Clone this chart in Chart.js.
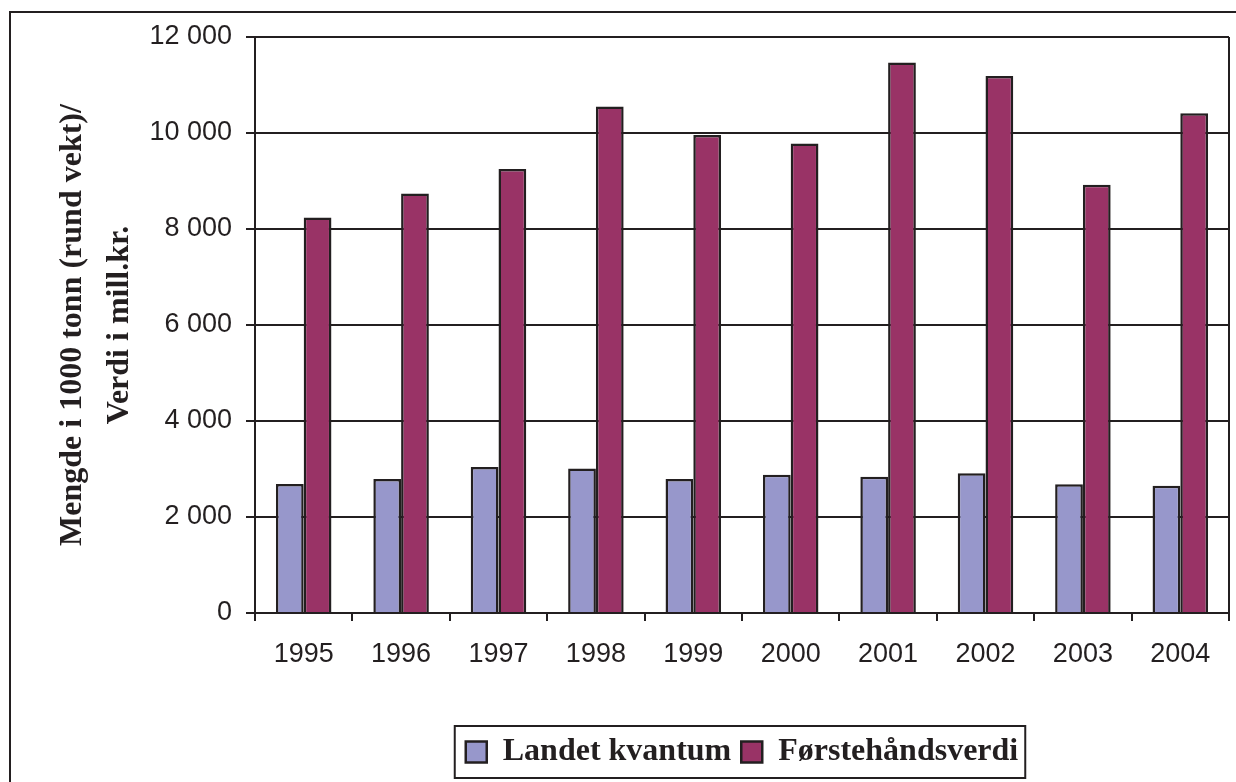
<!DOCTYPE html>
<html>
<head>
<meta charset="utf-8">
<script src="https://cdn.jsdelivr.net/npm/chart.js@4/dist/chart.umd.min.js"></script>
<style>
  html, body { margin: 0; padding: 0; background: #ffffff; }
  #wrap { position: relative; width: 1236px; height: 782px; }
</style>
</head>
<body>
<div id="wrap"><canvas id="c" width="1236" height="782"></canvas></div>
<script>
const years = ['1995', '1996', '1997', '1998', '1999', '2000', '2001', '2002', '2003', '2004'];
const landetKvantum = [2690, 2790, 3040, 3010, 2790, 2880, 2840, 2910, 2680, 2650];
const forstehandsverdi = [8240, 8740, 9250, 10550, 9960, 9780, 11470, 11190, 8920, 10410];
const yTickLabels = ['0', '2 000', '4 000', '6 000', '8 000', '10 000', '12 000'];
const seriesNames = ['Landet kvantum', 'Førstehåndsverdi'];
const yTitle = ['Mengde i 1000 tonn (rund vekt)/', 'Verdi i mill.kr.'];

const INK = '#231f20';
const SERIF = '"Liberation Serif", "Times New Roman", serif';
const SANS = '"Liberation Sans", Arial, sans-serif';

const framePlugin = {
  id: 'frames',
  afterDraw(chart) {
    const ctx = chart.ctx;
    const a = chart.chartArea;
    ctx.save();
    ctx.strokeStyle = INK;
    ctx.lineWidth = 2;
    // outer frame (only left and top visible)
    ctx.strokeRect(10, 12, 1300, 900);
    // right border of plot
    ctx.beginPath();
    ctx.moveTo(a.right, a.top);
    ctx.lineTo(a.right, a.bottom);
    ctx.stroke();
    // legend box
    const lg = chart.legend;
    if (lg && lg.legendHitBoxes && lg.legendHitBoxes.length) {
      const hb = lg.legendHitBoxes;
      const first = hb[0], last = hb[hb.length - 1];
      const cy = first.top + first.height / 2;
      const left = first.left - 11;
      const right = last.left + last.width + 7;
      ctx.strokeRect(left, cy - 26, right - left, 52);
    }
    ctx.restore();
  }
};

new Chart(document.getElementById('c'), {
  type: 'bar',
  data: {
    labels: years,
    datasets: [
      { label: seriesNames[0], data: landetKvantum, backgroundColor: '#9797cb', borderColor: INK, borderWidth: 2.5, borderSkipped: 'bottom' },
      { label: seriesNames[1], data: forstehandsverdi, backgroundColor: '#993366', borderColor: INK, borderWidth: 2.5, borderSkipped: 'bottom' }
    ]
  },
  options: {
    responsive: false,
    animation: false,
    devicePixelRatio: 1,
    layout: { padding: { left: 0, top: 37, right: 7, bottom: 4 } },
    datasets: { bar: { categoryPercentage: 0.57, barPercentage: 1.0 } },
    plugins: {
      tooltip: { enabled: false },
      legend: {
        position: 'bottom',
        fullSize: false,
        labels: {
          boxWidth: 21,
          boxHeight: 21,
          padding: 10,
          color: INK,
          font: { family: SERIF, size: 32, weight: 'bold' }
        }
      }
    },
    scales: {
      x: {
        grid: { offset: true, drawOnChartArea: false, drawTicks: true, tickLength: 8, color: INK, lineWidth: 2 },
        border: { display: true, color: INK, width: 2 },
        ticks: { color: INK, padding: 17, font: { family: SANS, size: 27 }, maxRotation: 0 },
        afterFit(s) { s.height = 113; }
      },
      y: {
        min: 0,
        max: 12000,
        ticks: {
          stepSize: 2000,
          color: INK,
          padding: 14,
          font: { family: SANS, size: 27 },
          callback: (v, i) => yTickLabels[i]
        },
        grid: { color: INK, lineWidth: 2, tickLength: 9 },
        border: { display: true, color: INK, width: 2 },
        title: {
          display: true,
          text: yTitle,
          color: INK,
          font: { family: SERIF, size: 32, weight: 'bold', lineHeight: 1.45 },
          padding: { top: 50, bottom: 0 }
        },
        afterFit(s) { s.width = 255; }
      }
    }
  },
  plugins: [framePlugin]
});
</script>
</body>
</html>
